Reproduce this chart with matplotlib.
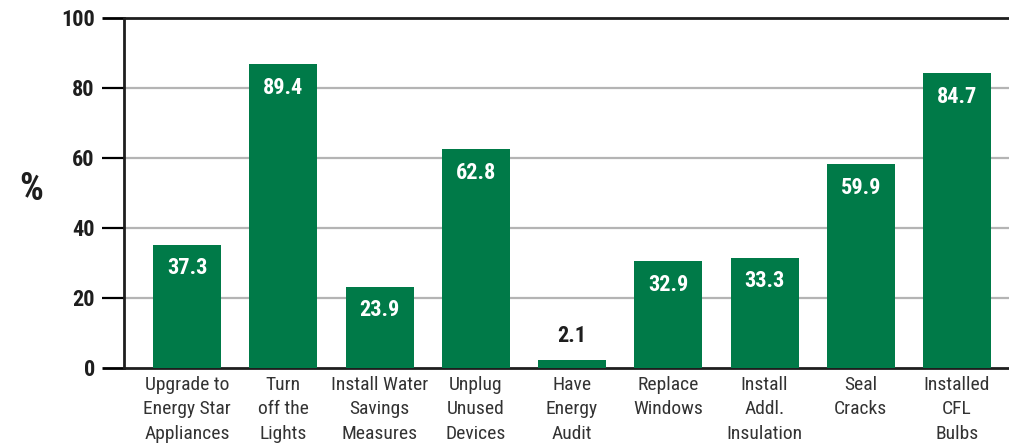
import numpy as np
import matplotlib
matplotlib.use("Agg")
import matplotlib.pyplot as plt

# Data
categories = ["Upgrade to\nEnergy Star\nAppliances", "Turn\noff the\nLights",
              "Install Water\nSavings\nMeasures", "Unplug\nUnused\nDevices",
              "Have\nEnergy\nAudit", "Replace\nWindows", "Install\nAddl.\nInsulation",
              "Seal\nCracks", "Installed\nCFL\nBulbs"]
values = [37.3, 89.4, 23.9, 62.8, 2.1, 32.9, 33.3, 59.9, 84.7]
# bar heights as drawn in the picture (slightly off from the printed values)
bar_heights = [35.1, 86.8, 23.1, 62.5, 2.2, 30.5, 31.4, 58.2, 84.2]
y_ticks = [0, 20, 40, 60, 80, 100]

green = "#007a48"
grey = "#b4b4b4"
dark = "#1e1e1e"

plt.rcParams['font.family'] = ["Roboto Condensed", "DejaVu Sans"]

fig = plt.figure(figsize=(10.09, 4.45), dpi=100)
ax = fig.add_axes([0.1229, 0.1737, 0.8771, 0.7865])

x = np.arange(len(categories))
bars = ax.bar(x, bar_heights, width=0.706, color=green, zorder=3)

# Value labels: inside the bar in white, above it when the bar is too short
for b, v in zip(bars, values):
    h = b.get_height()
    if h > 10:
        ax.annotate("%.1f" % v, (b.get_x() + b.get_width() / 2, h), xytext=(0, -17),
                    textcoords="offset points", ha="center", va="center",
                    color="white", fontsize=16, fontweight="bold", zorder=4)
    else:
        ax.annotate("%.1f" % v, (b.get_x() + b.get_width() / 2, h), xytext=(0, 17),
                    textcoords="offset points", ha="center", va="center",
                    color=dark, fontsize=16, fontweight="bold", zorder=4)

ax.set_xlim(-0.655, 8.54)
ax.set_ylim(0, 100)

# Grid lines
for t in y_ticks[1:-1]:
    ax.axhline(t, color=grey, lw=1.6, zorder=1)

ax.set_yticks(y_ticks)
ax.set_yticklabels([str(t) for t in y_ticks], fontsize=16, fontweight="bold", color=dark)
ax.tick_params(axis="y", length=16, width=1.6, pad=5, direction="out")
ticks = ax.yaxis.get_major_ticks()
for i, tk in enumerate(ticks):
    if i == 0 or i == len(ticks) - 1:
        tk.tick1line.set_color(dark)
        tk.tick1line.set_markeredgewidth(2)
    else:
        tk.tick1line.set_color(grey)

ax.set_xticks(x)
ax.set_xticklabels(categories, fontsize=14, color="#333333", linespacing=1.45)
ax.tick_params(axis="x", length=0, pad=6)

for side in ["top", "bottom", "left"]:
    ax.spines[side].set_color(dark)
    ax.spines[side].set_linewidth(2)
ax.spines["right"].set_visible(False)

fig.text(0.031, 0.575, "%", fontsize=27, fontweight="bold", color=dark,
         ha="center", va="center")

fig.savefig("out.png", dpi=100)
